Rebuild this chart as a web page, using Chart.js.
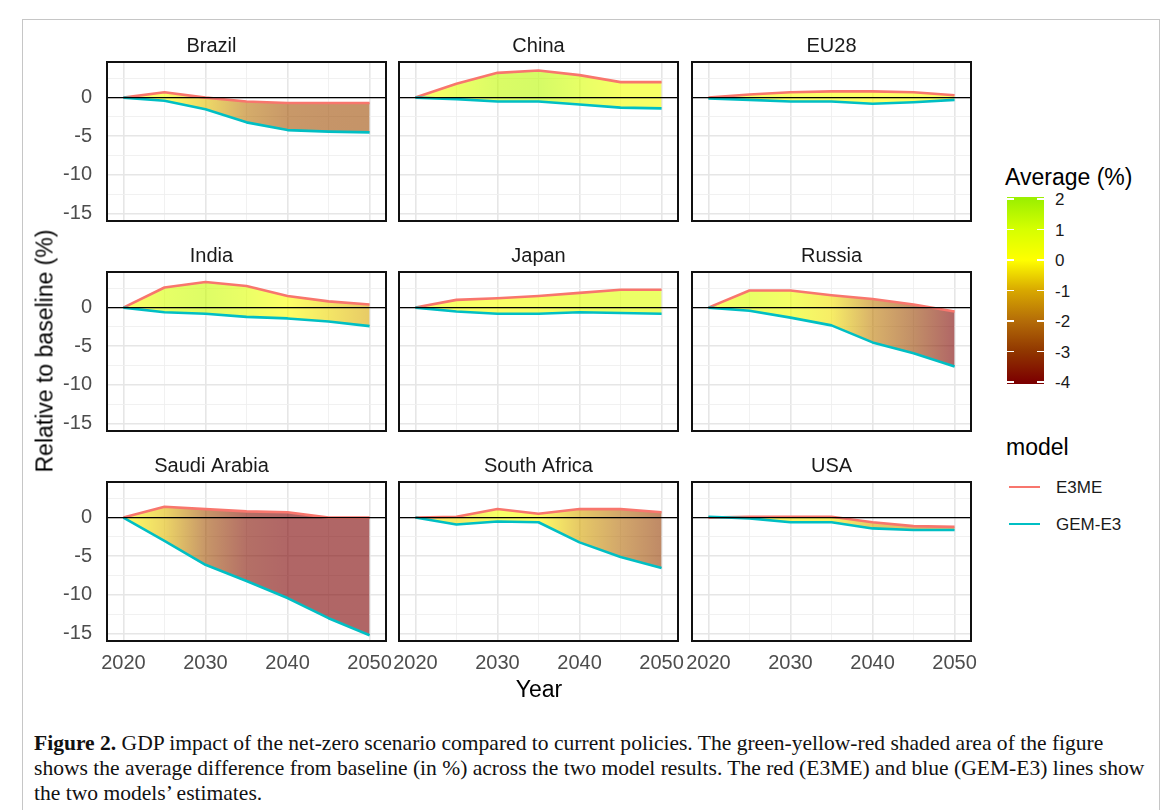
<!DOCTYPE html>
<html>
<head>
<meta charset="utf-8">
<title>GDP impact of the net-zero scenario</title>
<script src="https://cdn.jsdelivr.net/npm/chart.js@4.4.1/dist/chart.umd.min.js"></script>
<style>
  html, body { margin: 0; padding: 0; background: #fff; }
  body { width: 1170px; height: 810px; position: relative; overflow: hidden;
         font-family: "Liberation Sans", Arial, sans-serif; }
  #frame { position: absolute; left: 22px; top: 19px; width: 1138px; height: 810px;
           border: 1px solid #c6c6c6; box-sizing: border-box; }
  canvas { position: absolute; }
  .txt { position: absolute; white-space: nowrap; line-height: 1; }
  #ytitle { left: 45px; top: 351px; font-size: 23px; color: #000;
            transform: translate(-50%, -50%) rotate(-90deg); }
  #xtitle { left: 539px; top: 689px; font-size: 23px; color: #000;
            transform: translate(-50%, -50%); }
  .legTitle { font-size: 23px; color: #000; transform: translateY(-50%); }
  .legLabel { font-size: 17px; color: #1a1a1a; transform: translateY(-50%); }
  #colorbar { position: absolute; left: 1007px; top: 197px; width: 37px; height: 187px; }
  .cbTick { position: absolute; width: 7px; height: 1.3px; background: #fff; }
  .key { position: absolute; width: 31px; height: 2px; }
  #caption { position: absolute; left: 34px; top: 731px; color: #111;
             font-family: "Liberation Serif", "Times New Roman", serif; line-height: 25px; }
  #caption div { white-space: nowrap; }
</style>
</head>
<body>
<div id="frame"></div>
<div id="panels"></div>

<div class="txt" id="ytitle">Relative to baseline (%)</div>
<div class="txt" id="xtitle">Year</div>

<div class="txt legTitle" style="left:1005px; top:177px;">Average (%)</div>
<div id="colorbar"></div>
<div class="txt legTitle" style="left:1006px; top:447px;">model</div>
<div class="key" id="keyE3ME" style="left:1009px; top:486px;"></div>
<div class="txt legLabel" style="left:1056px; top:487px;">E3ME</div>
<div class="key" id="keyGEM" style="left:1009px; top:523px;"></div>
<div class="txt legLabel" style="left:1056px; top:524px;">GEM-E3</div>

<div id="caption">
  <div id="capLine1"><b>Figure 2.</b> GDP impact of the net-zero scenario compared to current policies. The green-yellow-red shaded area of the figure</div>
  <div>shows the average difference from baseline (in %) across the two model results. The red (E3ME) and blue (GEM-E3) lines show</div>
  <div>the two models’ estimates.</div>
</div>

<script>
// ---- data -------------------------------------------------------------
const years = [2020, 2025, 2030, 2035, 2040, 2045, 2050];

// GDP relative to baseline (%), E3ME and GEM-E3 model results
const brazilE3ME      = [0, 0.7, 0.0, -0.5, -0.7, -0.7, -0.7];
const brazilGEM       = [0, -0.4, -1.5, -3.2, -4.2, -4.4, -4.5];
const chinaE3ME       = [0, 1.8, 3.2, 3.5, 2.9, 2.0, 2.0];
const chinaGEM        = [0, -0.2, -0.5, -0.5, -0.9, -1.3, -1.4];
const eu28E3ME        = [0, 0.4, 0.7, 0.8, 0.8, 0.7, 0.3];
const eu28GEM         = [-0.1, -0.3, -0.5, -0.5, -0.8, -0.6, -0.3];
const indiaE3ME       = [0, 2.6, 3.3, 2.8, 1.5, 0.8, 0.4];
const indiaGEM        = [0, -0.6, -0.8, -1.2, -1.4, -1.8, -2.4];
const japanE3ME       = [0, 1.0, 1.2, 1.5, 1.9, 2.3, 2.3];
const japanGEM        = [0, -0.5, -0.8, -0.8, -0.6, -0.7, -0.8];
const russiaE3ME      = [0, 2.2, 2.2, 1.6, 1.1, 0.4, -0.5];
const russiaGEM       = [0, -0.4, -1.3, -2.3, -4.5, -5.9, -7.6];
const saudiE3ME       = [0, 1.4, 1.1, 0.8, 0.7, 0.0, 0.0];
const saudiGEM        = [0, -3.0, -6.1, -8.2, -10.4, -13.0, -15.2];
const southAfricaE3ME = [0, 0.1, 1.1, 0.5, 1.1, 1.1, 0.7];
const southAfricaGEM  = [0, -0.9, -0.5, -0.6, -3.2, -5.1, -6.5];
const usaE3ME         = [0, 0.1, 0.1, 0.1, -0.6, -1.1, -1.2];
const usaGEM          = [0.1, -0.1, -0.6, -0.6, -1.4, -1.6, -1.6];

const regionNames = ['Brazil', 'China', 'EU28', 'India', 'Japan', 'Russia',
                     'Saudi Arabia', 'South Africa', 'USA'];
const e3meSeries = [brazilE3ME, chinaE3ME, eu28E3ME, indiaE3ME, japanE3ME,
                    russiaE3ME, saudiE3ME, southAfricaE3ME, usaE3ME];
const gemSeries  = [brazilGEM, chinaGEM, eu28GEM, indiaGEM, japanGEM,
                    russiaGEM, saudiGEM, southAfricaGEM, usaGEM];

// axis ticks
const xMajorTicks = [2020, 2030, 2040, 2050];
const xMinorTicks = [2025, 2035, 2045];
const yMajorTicks = [0, -5, -10, -15];
const yMinorTicks = [2.5, -2.5, -7.5, -12.5];

// colour scale of the model average (%)
const avgScaleValues = [2, 1, 0, -1, -2, -3, -4];
const avgScaleColors = ['#9cf000', '#d6ff00', '#ffff00', '#d8a800', '#b46c08', '#903600', '#7c0000'];

// ---- styling ----------------------------------------------------------
const E3ME_COLOR = '#F8766D';
const GEM_COLOR  = '#00BFC4';
const FILL_ALPHA = 0.6;
const PANEL_W = 279, PANEL_H = 159;
const colLeft = [107, 399, 692];
const rowTop  = [62, 272, 482];
const X_RANGE = [2018, 2052];
const Y_RANGE = [-15.95, 4.6];
const SIDE_PAD = 12, TOP_PAD = 2, BOTTOM_PAD = 16;
const TITLE_H = 28;          // 20px font * 1.2 + 4px padding
const Y_AXIS_W = 70, X_AXIS_H = 40;

Chart.defaults.font.family = '"Liberation Sans", Arial, sans-serif';

function hexToRgb(h) {
  const n = parseInt(h.slice(1), 16);
  return [(n >> 16) & 255, (n >> 8) & 255, n & 255];
}
function avgColour(v, alpha) {
  const vs = avgScaleValues;
  const top = vs[0], bottom = vs[vs.length - 1];
  const c = Math.min(top, Math.max(bottom, v));
  let i = 0;
  while (i < vs.length - 2 && c < vs[i + 1]) i++;
  const t = (vs[i] - c) / (vs[i] - vs[i + 1]);
  const a = hexToRgb(avgScaleColors[i]), b = hexToRgb(avgScaleColors[i + 1]);
  const rgb = a.map((x, k) => Math.round(x + (b[k] - x) * t));
  return `rgba(${rgb[0]},${rgb[1]},${rgb[2]},${alpha})`;
}

// shaded band between the two models, coloured by their average
function bandFill(e3me, gem) {
  return function (context) {
    const chart = context.chart;
    const area = chart.chartArea;
    const xs = chart.scales.x;
    if (!area || !xs) return 'rgba(0,0,0,0)';
    const x0 = xs.getPixelForValue(years[0]);
    const x1 = xs.getPixelForValue(years[years.length - 1]);
    const g = chart.ctx.createLinearGradient(x0, 0, x1, 0);
    years.forEach((yr, k) => {
      const off = (xs.getPixelForValue(yr) - x0) / (x1 - x0);
      g.addColorStop(Math.min(1, Math.max(0, off)), avgColour((e3me[k] + gem[k]) / 2, FILL_ALPHA));
    });
    return g;
  };
}

// zero reference line and panel frame
const panelDecor = {
  id: 'panelDecor',
  afterDatasetsDraw(chart) {
    const { ctx, chartArea: a, scales: { y } } = chart;
    const y0 = y.getPixelForValue(0);
    ctx.save();
    ctx.strokeStyle = '#000';
    ctx.lineWidth = 1.4;
    ctx.beginPath();
    ctx.moveTo(a.left, y0);
    ctx.lineTo(a.right, y0);
    ctx.stroke();
    ctx.lineWidth = 2;
    ctx.strokeStyle = '#111';
    ctx.strokeRect(a.left, a.top, a.right - a.left, a.bottom - a.top);
    ctx.restore();
  }
};

const isMajorX = v => xMajorTicks.includes(v);
const isMajorY = v => yMajorTicks.includes(v);

const holder = document.getElementById('panels');
regionNames.forEach((name, i) => {
  const col = i % 3, row = Math.floor(i / 3);
  const showY = col === 0, showX = row === 2;
  const left = colLeft[col] - SIDE_PAD - (showY ? Y_AXIS_W : 0);
  const top = rowTop[row] - TOP_PAD - TITLE_H;
  const width = PANEL_W + SIDE_PAD * 2 + (showY ? Y_AXIS_W : 0);
  const height = PANEL_H + TOP_PAD + TITLE_H + BOTTOM_PAD + (showX ? X_AXIS_H : 0);

  const cv = document.createElement('canvas');
  cv.width = width; cv.height = height;
  cv.style.left = left + 'px'; cv.style.top = top + 'px';
  cv.style.width = width + 'px'; cv.style.height = height + 'px';
  holder.appendChild(cv);

  const e3me = e3meSeries[i], gem = gemSeries[i];

  new Chart(cv, {
    type: 'line',
    data: {
      datasets: [
        {
          label: 'GEM-E3',
          data: years.map((yr, k) => ({ x: yr, y: gem[k] })),
          borderColor: GEM_COLOR,
          borderWidth: 2.6,
          backgroundColor: bandFill(e3me, gem),
          fill: 1,
          pointRadius: 0,
          tension: 0,
          borderJoinStyle: 'round'
        },
        {
          label: 'E3ME',
          data: years.map((yr, k) => ({ x: yr, y: e3me[k] })),
          borderColor: E3ME_COLOR,
          borderWidth: 2.6,
          backgroundColor: 'rgba(0,0,0,0)',
          fill: false,
          pointRadius: 0,
          tension: 0,
          borderJoinStyle: 'round'
        }
      ]
    },
    options: {
      responsive: false,
      animation: false,
      devicePixelRatio: 1,
      events: [],
      layout: { padding: { left: SIDE_PAD, right: SIDE_PAD, top: TOP_PAD, bottom: BOTTOM_PAD } },
      plugins: {
        legend: { display: false },
        tooltip: { enabled: false },
        filler: { drawTime: 'beforeDatasetsDraw', propagate: false },
        title: {
          display: true, text: name, color: '#1a1a1a',
          font: { size: 20, weight: 'normal' },
          padding: { top: 0, bottom: 4 }
        }
      },
      scales: {
        x: {
          type: 'linear', position: 'bottom',
          min: X_RANGE[0], max: X_RANGE[1],
          afterBuildTicks: s => { s.ticks = xMajorTicks.concat(xMinorTicks).sort((a, b) => a - b).map(v => ({ value: v })); },
          afterFit: s => { s.height = showX ? X_AXIS_H : 0; },
          border: { display: false },
          grid: {
            color: c => isMajorX(c.tick.value) ? '#e6e6e6' : '#efefef',
            lineWidth: c => isMajorX(c.tick.value) ? 1.6 : 0.9,
            drawTicks: true, tickLength: 10, tickColor: 'rgba(0,0,0,0)'
          },
          ticks: {
            display: showX, autoSkip: false, maxRotation: 0, minRotation: 0, padding: 0,
            color: '#4d4d4d', font: { size: 20 },
            callback: v => isMajorX(v) ? String(v) : ''
          }
        },
        y: {
          type: 'linear', position: 'left',
          min: Y_RANGE[0], max: Y_RANGE[1],
          afterBuildTicks: s => { s.ticks = yMajorTicks.concat(yMinorTicks).sort((a, b) => a - b).map(v => ({ value: v })); },
          afterFit: s => { s.width = showY ? Y_AXIS_W : 0; },
          border: { display: false },
          grid: {
            color: c => isMajorY(c.tick.value) ? '#e6e6e6' : '#efefef',
            lineWidth: c => isMajorY(c.tick.value) ? 1.6 : 0.9,
            drawTicks: true, tickLength: 15, tickColor: 'rgba(0,0,0,0)'
          },
          ticks: {
            display: showY, autoSkip: false, padding: 0,
            color: '#4d4d4d', font: { size: 20 },
            callback: v => isMajorY(v) ? String(v) : ''
          }
        }
      }
    },
    plugins: [panelDecor]
  });
});

// ---- legend: colour bar and model keys ---------------------------------
(function buildLegend() {
  const bar = document.getElementById('colorbar');
  const BAR_H = 187, END_PAD = 2;
  const step = (BAR_H - 2 * END_PAD) / (avgScaleValues.length - 1);
  const stops = [];
  avgScaleValues.forEach((v, k) => {
    const y = END_PAD + k * step;
    const c = avgColour(v, 1);
    if (k === 0) stops.push(`${c} 0px`);
    stops.push(`${c} ${y.toFixed(1)}px`);
    if (k === avgScaleValues.length - 1) stops.push(`${c} ${BAR_H}px`);
  });
  bar.style.background = `linear-gradient(to bottom, ${stops.join(', ')})`;

  avgScaleValues.forEach((v, k) => {
    const yc = END_PAD + k * step;
    ['0px', '30px'].forEach(lx => {
      const t = document.createElement('div');
      t.className = 'cbTick';
      t.style.left = lx;
      t.style.top = (yc - 0.6) + 'px';
      bar.appendChild(t);
    });
    const lab = document.createElement('div');
    lab.className = 'txt legLabel';
    lab.style.left = '1055px';
    lab.style.top = (197 + yc) + 'px';
    lab.textContent = String(v);
    document.body.appendChild(lab);
  });

  document.getElementById('keyE3ME').style.background = E3ME_COLOR;
  document.getElementById('keyGEM').style.background = GEM_COLOR;
})();

// ---- caption sizing: first line spans the text block --------------------
(function sizeCaption() {
  const CAPTION_W = 1071;
  const base = 20;
  const cx = document.createElement('canvas').getContext('2d');
  cx.font = `bold ${base}px "Liberation Serif"`;
  const wb = cx.measureText('Figure 2.').width;
  cx.font = `${base}px "Liberation Serif"`;
  const wr = cx.measureText(' GDP impact of the net-zero scenario compared to current policies. The green-yellow-red shaded area of the figure').width;
  const size = base * CAPTION_W / (wb + wr);
  document.getElementById('caption').style.fontSize = size.toFixed(2) + 'px';
})();
</script>
</body>
</html>
